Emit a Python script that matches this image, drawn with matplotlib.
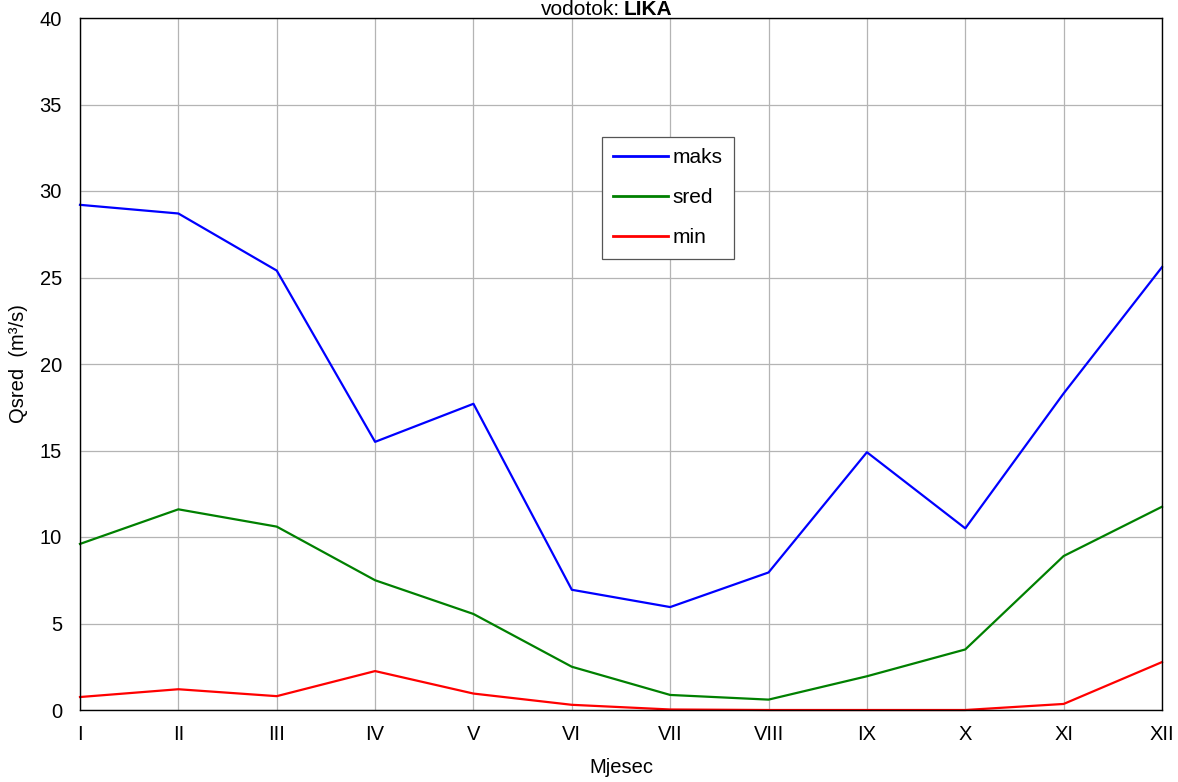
import matplotlib
matplotlib.use("Agg")
from matplotlib import pyplot as plt
import numpy as np

plt.rcParams['font.family'] = ['Liberation Sans', 'DejaVu Sans']

months = ['I', 'II', 'III', 'IV', 'V', 'VI', 'VII', 'VIII', 'IX', 'X', 'XI', 'XII']
maks = [29.2, 28.7, 25.4, 15.5, 17.7, 6.95, 5.95, 7.95, 14.9, 10.5, 18.3, 25.6]
sred = [9.6, 11.6, 10.6, 7.5, 5.55, 2.5, 0.87, 0.6, 1.95, 3.5, 8.9, 11.75]
mini = [0.75, 1.2, 0.8, 2.25, 0.95, 0.3, 0.03, 0.0, 0.0, 0.0, 0.35, 2.77]

W, H = 1178, 782
fig = plt.figure(figsize=(W / 100, H / 100), dpi=100)
ax = fig.add_axes([80 / W, 72 / H, 1082 / W, 692 / H])

x = np.arange(len(months))
ax.plot(x, maks, color='#0000ff', lw=1.6, label='maks', clip_on=False)
ax.plot(x, sred, color='#008000', lw=1.6, label='sred', clip_on=False)
ax.plot(x, mini, color='#ff0000', lw=1.6, label='min', clip_on=False)

ax.set_xlim(0, 11)
ax.set_ylim(0, 40)
ax.set_xticks(x)
ax.set_xticklabels(months)
ax.set_yticks(np.arange(0, 41, 5))
ax.tick_params(length=0, labelsize=14.5)
ax.tick_params(axis='x', pad=11)
ax.tick_params(axis='y', pad=13)
ax.grid(True, color='#b4b4b4', lw=0.9)
for s in ax.spines.values():
    s.set_linewidth(1.0)
    s.set_color('black')

ax.set_xlabel('Mjesec', fontsize=14.5, labelpad=10)
ax.set_ylabel('Qsred  (m³/s)', fontsize=14.5, labelpad=8)

# naslov: obican + podebljan dio (odrezan na vrhu kao u originalu)
fig.text(620 / W, 1 - 15 / H, 'vodotok:', fontsize=15, ha='right', va='baseline')
fig.text(624 / W, 1 - 15 / H, 'LIKA', fontsize=15, fontweight='bold', ha='left', va='baseline')

leg = ax.legend(loc='upper left', bbox_to_anchor=(522 / 1082, (710 - 137) / 692),
                fontsize=15, frameon=True, fancybox=False, edgecolor='#555555',
                framealpha=1, handlelength=2.6, handletextpad=0.25,
                labelspacing=1.0, borderpad=0.55, borderaxespad=0)
leg.get_frame().set_linewidth(0.9)
for h in leg.get_lines():
    h.set_linewidth(2.0)

fig.savefig('out.png', dpi=100)
